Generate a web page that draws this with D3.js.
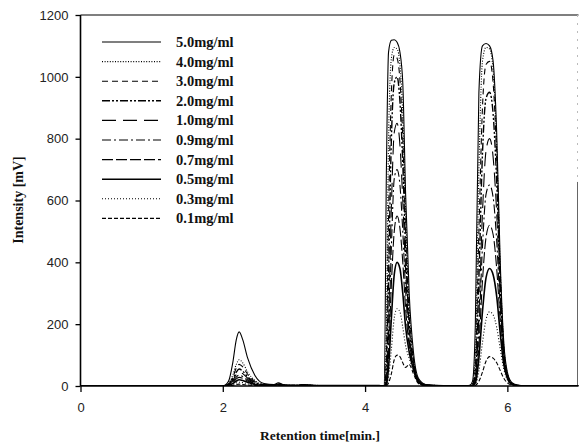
<!DOCTYPE html>
<html><head><meta charset="utf-8">
<script src="https://cdn.jsdelivr.net/npm/d3@7/dist/d3.min.js"></script>
<style>body{margin:0;background:#fff}svg{display:block}</style>
</head><body><svg id="c" width="579" height="448"></svg>
<script>
// Shared retention-time grid (min.)
const times = [0,
  2.00,2.08,2.14,2.19,2.23,2.28,2.35,2.45,2.58,2.72,2.78,2.86,3.05,3.12,3.3,3.8,4.2,
  4.27,4.30,4.33,4.37,4.41,4.45,4.49,4.53,4.57,4.62,4.68,4.75,4.85,5.0,
  5.40,5.47,5.51,5.55,5.60,5.65,5.70,5.75,5.80,5.85,5.90,5.95,6.00,6.06,6.14,6.25,7.0];

const seriesNames = ["5.0mg/ml","4.0mg/ml","3.0mg/ml","2.0mg/ml","1.0mg/ml","0.9mg/ml","0.7mg/ml","0.5mg/ml","0.3mg/ml","0.1mg/ml"];

const s50 = [0, 0,15,75,150,175,150,90,35,8,5,10,4,3,5,2,2,2,
  0,700,1080,1118,1120,1112,1080,980,620,300,110,25,5,2,
  0,2,15,200,950,1100,1108,1100,1050,820,400,140,45,12,3,0,0];
const s40 = [0, 0,8,35,70,85,75,45,18,5,4,8,3,2,4,2,1,1,
  0,200,800,1060,1095,1090,1040,880,560,260,90,20,4,2,
  0,1,8,100,700,1050,1095,1090,1020,780,380,130,40,10,2,0,0];
const s30 = [0, 0,6,28,58,70,62,38,15,4,3,7,3,2,3,1,1,1,
  0,100,550,950,1070,1060,990,800,500,230,85,20,4,1,
  0,1,5,60,500,900,1040,1050,980,740,360,120,38,10,2,0,0];
const s20 = [0, 0,5,22,45,55,48,30,12,4,3,6,2,2,3,1,1,1,
  0,50,350,800,980,1000,920,720,440,200,80,18,3,1,
  0,1,4,40,350,750,930,950,880,660,330,110,35,9,2,0,0];
const s10 = [0, 0,4,18,37,45,40,25,10,3,3,5,2,1,2,1,1,1,
  0,20,200,580,820,850,780,600,370,170,70,15,3,1,
  0,0,3,25,230,560,760,800,740,560,290,100,32,8,2,0,0];
const s09 = [0, 0,3,14,29,35,31,20,8,3,2,5,2,1,2,1,1,1,
  0,15,150,450,670,700,650,500,310,150,65,15,3,1,
  0,0,2,20,180,450,620,650,610,470,250,90,30,8,2,0,0];
const s07 = [0, 0,3,11,23,28,25,16,7,2,2,4,2,1,2,1,0,0,
  0,10,100,330,500,550,510,400,250,130,60,14,3,1,
  0,0,2,15,130,340,480,520,490,380,210,80,28,7,1,0,0];
const s05 = [0, 0,2,8,16,20,18,12,5,2,2,4,1,1,2,1,0,0,
  0,5,60,220,360,400,380,300,190,110,55,12,2,1,
  0,0,1,10,90,240,350,380,360,290,170,70,25,6,1,0,0];
const s03 = [0, 0,1,5,10,12,11,7,3,1,1,3,1,1,1,0,0,0,
  0,3,30,120,220,250,240,190,130,90,50,10,2,0,
  0,0,1,6,50,140,215,240,230,190,120,55,20,5,1,0,0];
const s01 = [0, 0,1,2,5,6,5,3,2,1,1,2,1,0,1,0,0,0,
  0,1,10,40,85,100,95,75,60,70,40,8,1,0,
  0,0,0,2,15,45,80,95,90,75,50,25,10,3,0,0,0];

const seriesValues = [s50,s40,s30,s20,s10,s09,s07,s05,s03,s01];
const xTicks = [0,2,4,6];
const yTicks = [0,200,400,600,800,1000,1200];

// styles (kept separate from data)
const dashes = ["none","1,1.6","6,4","8,2,2,2,2,2","14,7","9,3,2,3","11,3","none","1,2","4,2"];
const widths = [1.1,1.1,1.1,1.4,1.1,1.1,1.1,1.6,1.1,1.1];

const svg = d3.select("#c");
const L = 80.5, R = 578.5, T = 15, B = 386;
const x = d3.scaleLinear().domain([0,7]).range([L,R]);
const y = d3.scaleLinear().domain([0,1200]).range([B,T]);

svg.append("clipPath").attr("id","clip").append("rect")
  .attr("x",L).attr("y",T-2).attr("width",R-L).attr("height",B-T+2);

// frame top & right
svg.append("line").attr("x1",L).attr("x2",R).attr("y1",T).attr("y2",T)
  .attr("stroke","#000").attr("stroke-width",1.2);
svg.append("line").attr("x1",R-1).attr("x2",R-1).attr("y1",y(660)).attr("y2",B)
  .attr("stroke","#666").attr("stroke-width",1);
svg.append("line").attr("x1",R-1).attr("x2",R-1).attr("y1",T).attr("y2",y(660))
  .attr("stroke","#bbb").attr("stroke-width",1).attr("stroke-dasharray","2,6");

const line = d3.line().x((d,i)=>x(times[i])).y(d=>y(d)).curve(d3.curveMonotoneX);
const g = svg.append("g").attr("clip-path","url(#clip)");
seriesValues.forEach((vals,k)=>{
  g.append("path").attr("d",line(vals)).attr("fill","none")
    .attr("stroke","#000").attr("stroke-width",widths[k])
    .attr("stroke-dasharray",dashes[k]);
});

// axes
const xa = svg.append("g").attr("transform",`translate(0,${B})`)
  .call(d3.axisBottom(x).tickValues(xTicks).tickSize(6).tickPadding(11).tickFormat(d3.format("d")));
const ya = svg.append("g").attr("transform",`translate(${L},0)`)
  .call(d3.axisLeft(y).tickValues(yTicks).tickSize(5).tickPadding(7).tickFormat(d3.format("d")));
[xa,ya].forEach(a=>{
  a.select(".domain").attr("stroke","#000").attr("stroke-width",1.6);
  a.selectAll(".tick line").attr("stroke","#000").attr("stroke-width",1.3);
  a.selectAll("text").attr("font-family","Liberation Sans, Arial, sans-serif")
    .attr("font-size",13).attr("fill","#222");
});
ya.select(".domain").attr("d",`M0,${B}V${T}`);
xa.select(".domain").attr("d",`M${L},0H${R}`);

// axis titles
svg.append("text").attr("x",320).attr("y",440).attr("text-anchor","middle")
  .attr("font-family","Liberation Serif, serif").attr("font-weight","bold")
  .attr("font-size",13.5).attr("fill","#111").text("Retention time[min.]");
svg.append("text").attr("transform","translate(23,200) rotate(-90)").attr("text-anchor","middle")
  .attr("font-family","Liberation Serif, serif").attr("font-weight","bold")
  .attr("font-size",14).attr("fill","#111").text("Intensity [mV]");

// legend
const lg = svg.append("g");
seriesNames.forEach((n,k)=>{
  const yy = 42 + k*19.6;
  lg.append("line").attr("x1",102).attr("x2",161).attr("y1",yy).attr("y2",yy)
    .attr("stroke","#000").attr("stroke-width",widths[k]).attr("stroke-dasharray",dashes[k]);
  lg.append("text").attr("x",176).attr("y",yy+5)
    .attr("font-family","Liberation Serif, serif").attr("font-weight","bold")
    .attr("font-size",14.5).attr("fill","#111").text(n);
});
</script></body></html>
